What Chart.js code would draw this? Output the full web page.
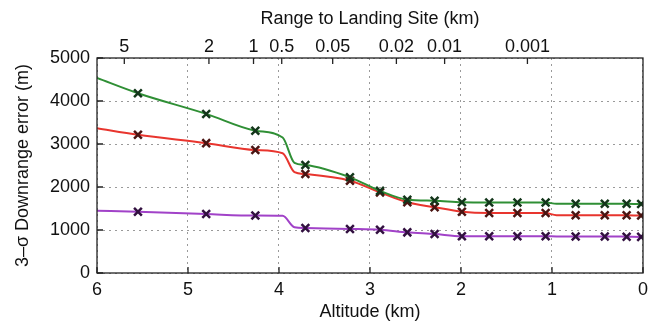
<!DOCTYPE html>
<html>
<head>
<meta charset="utf-8">
<script src="https://cdn.jsdelivr.net/npm/chart.js@4.4.0/dist/chart.umd.min.js"></script>
<style>
  body { margin: 0; background: #fff; }
  #wrap { width: 654px; height: 326px; }
</style>
</head>
<body>
<div id="wrap"><canvas id="errorChart"></canvas></div>
<script>
// altitude samples (km) along the trajectory
const altitude = [6.0, 5.55, 4.80, 4.26, 3.96, 3.83, 3.71, 3.22, 2.89, 2.59, 2.29, 1.99, 1.69, 1.38, 1.07, 0.95, 0.74, 0.42, 0.18, 0.02, 0.0];
// altitudes where an 'x' marker is shown
const markerAltitude = [5.55, 4.80, 4.26, 3.71, 3.22, 2.89, 2.59, 2.29, 1.99, 1.69, 1.38, 1.07, 0.74, 0.42, 0.18, 0.02];

// 3-sigma downrange error (m)
const greenError  = [4535, 4180, 3700, 3310, 3150, 2560, 2510, 2225, 1910, 1705, 1680, 1645, 1640, 1640, 1640, 1610, 1610, 1610, 1610, 1605, 1605];
const redError    = [3365, 3215, 3020, 2860, 2785, 2345, 2300, 2145, 1875, 1645, 1530, 1425, 1395, 1395, 1395, 1345, 1345, 1345, 1345, 1335, 1335];
const purpleError = [1450, 1425, 1370, 1335, 1330, 1065, 1045, 1025, 1005, 945, 905, 855, 855, 855, 855, 850, 850, 850, 845, 840, 840];

// top axis: range to landing site (km) and the altitude it sits at
const rangeLabels   = ['5', '2', '1', '0.5', '0.05', '0.02', '0.01', '0.001'];
const rangeAltitude = [5.70, 4.77, 4.28, 3.97, 3.41, 2.71, 2.18, 1.27];

const FONT = { family: '"Liberation Sans", Arial, sans-serif', size: 18 };

function toPoints(values) {
    return altitude.map((a, i) => ({ x: a, y: values[i] }));
}

function makeSeries(values, color, markColor) {
    return {
        data: toPoints(values),
        borderColor: color,
        borderWidth: 2,
        pointStyle: 'crossRot',
        pointRadius: ctx => markerAltitude.includes(altitude[ctx.dataIndex]) ? 5.5 : 0,
        pointBorderColor: markColor,
        pointBorderWidth: 2.5,
        tension: 0.3,
        cubicInterpolationMode: 'monotone'
    };
}

// frame and inward ticks, matlab style
const framePlugin = {
    id: 'frame',
    afterDraw(chart) {
        const { ctx, chartArea: a, scales } = chart;
        ctx.save();
        ctx.strokeStyle = '#222';
        ctx.lineWidth = 1.3;
        ctx.strokeRect(a.left, a.top, a.right - a.left, a.bottom - a.top);
        ctx.beginPath();
        scales.x.ticks.forEach(t => {
            const px = scales.x.getPixelForValue(t.value);
            ctx.moveTo(px, a.bottom); ctx.lineTo(px, a.bottom - 6);
        });
        scales.x2.ticks.forEach(t => {
            const px = scales.x2.getPixelForValue(t.value);
            ctx.moveTo(px, a.top); ctx.lineTo(px, a.top + 6);
        });
        scales.y.ticks.forEach(t => {
            const py = scales.y.getPixelForValue(t.value);
            ctx.moveTo(a.left, py); ctx.lineTo(a.left + 6, py);
        });
        ctx.stroke();
        ctx.restore();
    }
};

new Chart(document.getElementById('errorChart'), {
    type: 'line',
    data: {
        datasets: [
            makeSeries(greenError, '#2f8f35', '#13361a'),
            makeSeries(redError, '#e8352e', '#4a1412'),
            makeSeries(purpleError, '#a142c8', '#321040')
        ]
    },
    options: {
        responsive: true,
        maintainAspectRatio: false,
        animation: false,
        layout: { padding: { right: 7, left: 0, top: 0, bottom: 0 } },
        plugins: { legend: { display: false }, tooltip: { enabled: false } },
        scales: {
            x: {
                type: 'linear',
                position: 'bottom',
                min: 0, max: 6,
                reverse: true,
                afterFit: s => { s.height = 53; },
                ticks: { stepSize: 1, color: '#111', font: FONT, padding: 6, maxRotation: 0 },
                grid: { color: '#9a9a9a', lineWidth: 1, tickLength: 0 },
                border: { display: false, dash: [2, 4] },
                title: { display: true, text: 'Altitude (km)', color: '#111', font: FONT, padding: { top: 0, bottom: 3 } }
            },
            x2: {
                type: 'linear',
                position: 'top',
                min: 0, max: 6,
                reverse: true,
                afterFit: s => { s.height = 58; },
                afterBuildTicks: s => { s.ticks = rangeAltitude.map(v => ({ value: v })); },
                ticks: {
                    autoSkip: false, maxRotation: 0, color: '#111', font: FONT, padding: 0,
                    callback: (v, i) => rangeLabels[i]
                },
                grid: { drawOnChartArea: false, tickLength: 0 },
                border: { display: false },
                title: { display: true, text: 'Range to Landing Site (km)', color: '#111', font: FONT, padding: { top: 8, bottom: 0 } }
            },
            y: {
                min: 0, max: 5000,
                afterFit: s => { s.width = 97; },
                ticks: { stepSize: 1000, color: '#111', font: FONT, padding: 7, callback: v => String(v) },
                grid: { color: '#9a9a9a', lineWidth: 1, tickLength: 0 },
                border: { display: false, dash: [2, 4] },
                title: { display: true, text: '3–σ Downrange error (m)', color: '#111', font: FONT, padding: { top: 12, bottom: 0 } }
            }
        }
    },
    plugins: [framePlugin]
});
</script>
</body>
</html>
